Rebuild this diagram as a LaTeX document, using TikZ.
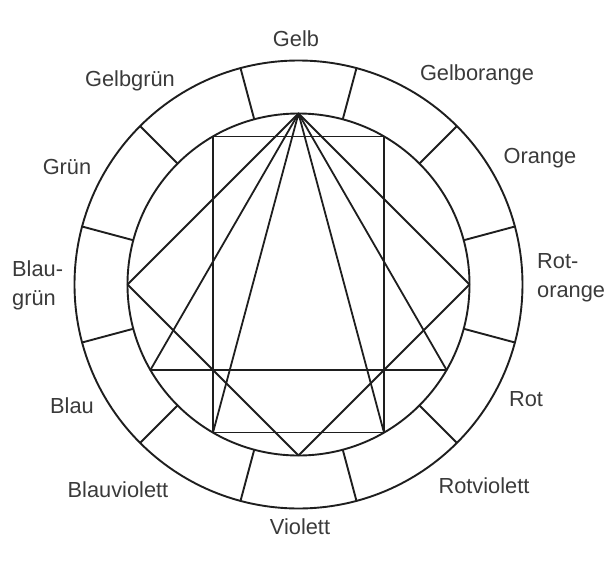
\documentclass[tikz,border=0pt]{standalone}
\usepackage{fontspec}
\setmainfont{Liberation Sans}
\usetikzlibrary{calc}
\definecolor{inkline}{HTML}{1E1E1E}
\definecolor{inktext}{HTML}{3A3A3A}

\begin{document}
\begin{tikzpicture}[x=1pt,y=1pt,
  wheel/.style={draw=inkline,line width=1.9pt},
  colname/.style={text=inktext,font=\fontsize{21.8}{29}\selectfont,inner sep=0pt},
  figline/.style={draw=inkline,line width=1.8pt,line join=round}]
\useasboundingbox (-298.5,-278.5) rectangle (314.5,284.5);
\def\rin{171}
\def\rout{224}
% rings and the twelve fields
\draw[wheel] (0,0) circle (\rout);
\draw[wheel] (0,0) circle (\rin);
\foreach \a in {15,45,...,345}
  \draw[wheel] (\a:\rin) -- (\a:\rout);
% points on the inner ring
\foreach \a in {0,30,...,330}
  \coordinate (v\a) at (\a:\rin);
% square, triangle, rectangle
\draw[figline] (v90) -- (v180) -- (v270) -- (v0) -- cycle;
\draw[figline] (v90) -- (v210) -- (v330) -- cycle;
\draw[figline] (v60) -- (v120) -- (v240) -- (v300) -- cycle;
\draw[figline] (v240) -- (v90) -- (v300);
% names of the colours
\node (gelb) [colname] at (-2.5,245.5) {Gelb};
\node (gelborange) [colname] at (178.5,209.5) {Gelborange};
\node (orange) [colname] at (241.5,126.5) {Orange};
\node (rotorange) [colname,align=left,anchor=west] at (238.5,7) {Rot-\\orange};
\node (rot) [colname] at (227.5,-114.5) {Rot};
\node (rotviolett) [colname] at (185.5,-201.5) {Rotviolett};
\node (violett) [colname] at (1.5,-242.5) {Violett};
\node (blauviolett) [colname] at (-180.5,-205.5) {Blauviolett};
\node (blau) [colname] at (-226.5,-121.5) {Blau};
\node (blaugruen) [colname,align=left,anchor=west] at (-286.5,-1) {Blau-\\grün};
\node (gruen) [colname] at (-231.5,117.5) {Grün};
\node (gelbgruen) [colname] at (-168.5,203.5) {Gelbgrün};
\end{tikzpicture}
\end{document}
